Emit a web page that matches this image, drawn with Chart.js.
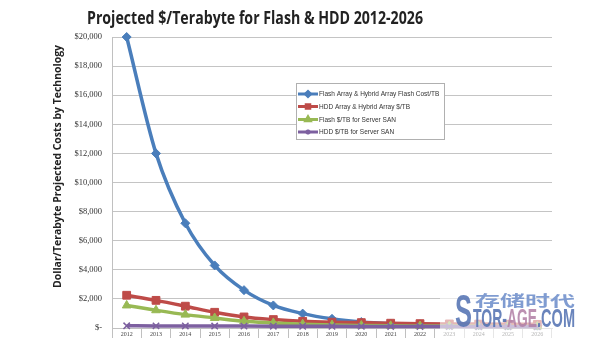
<!DOCTYPE html>
<html>
<head>
<meta charset="utf-8">
<script src="https://cdn.jsdelivr.net/npm/chart.js@4/dist/chart.umd.min.js"></script>
<style>
  html, body { margin: 0; padding: 0; background: #fff; }
  canvas { display: block; }
</style>
</head>
<body>
<canvas id="chart" width="600" height="345"></canvas>
<script>
// Projected cost per terabyte, 2012-2026
const years = ['2012','2013','2014','2015','2016','2017','2018','2019','2020','2021','2022','2023','2024','2025','2026'];

const flashArrayCost   = [20000, 12000, 7200, 4300, 2600, 1550, 990, 630, 410, 300, 250, 210, 190, 170, 160];
const hddArrayCost     = [2250, 1900, 1500, 1080, 760, 580, 460, 400, 370, 330, 300, 280, 270, 260, 250];
const flashServerCost  = [1550, 1220, 920, 690, 460, 350, 260, 200, 170, 150, 140, 130, 120, 110, 100];
const hddServerCost    = [150, 145, 140, 135, 130, 125, 120, 115, 110, 105, 100, 95, 90, 85, 80];

const seriesNames = [
  'Flash Array & Hybrid Array Flash Cost/TB',
  'HDD Array & Hybrid Array $/TB',
  'Flash $/TB for Server SAN',
  'HDD $/TB for Server SAN'
];

const chartTitle = 'Projected $/Terabyte for Flash & HDD 2012-2026';
const yAxisTitle = 'Dollar/Terabyte Projected Costs by Technology';

const COLORS = ['#4a7ebb', '#be4b48', '#98b954', '#7d60a0'];
const MARKERS = ['rectRot', 'rect', 'triangle', 'crossRot'];
const MARKER_R = [4.5, 5.5, 5, 4.5];

function makeSeries(i, values) {
  return {
    label: seriesNames[i],
    data: values,
    borderColor: COLORS[i],
    backgroundColor: COLORS[i],
    borderWidth: 3.5,
    pointStyle: MARKERS[i],
    pointRadius: MARKER_R[i],
    pointBorderWidth: i === 3 ? 1.5 : 1,
    pointBackgroundColor: COLORS[i],
    pointBorderColor: COLORS[i],
    cubicInterpolationMode: 'monotone',
    order: 4 - i,
    clip: false
  };
}

// Draws a string compressed/stretched to an exact width
function fitText(ctx, text, x, y, width, font, color) {
  ctx.save();
  ctx.font = font;
  ctx.fillStyle = color;
  ctx.textBaseline = 'alphabetic';
  ctx.textAlign = 'left';
  const w = ctx.measureText(text).width;
  const s = width / w;
  ctx.translate(x, y);
  ctx.scale(s, 1);
  ctx.fillText(text, 0, 0);
  ctx.restore();
}

const decorations = {
  id: 'decorations',
  beforeDraw(chart) {
    const ctx = chart.ctx;
    ctx.save();
    ctx.fillStyle = '#ffffff';
    ctx.fillRect(0, 0, chart.width, chart.height);
    ctx.restore();
  },
  afterDatasetsDraw(chart) {
    const ctx = chart.ctx;
    // legend box inside the plot
    const bx = 296, by = 83, bw = 148, bh = 56;
    ctx.save();
    ctx.fillStyle = '#ffffff';
    ctx.fillRect(bx, by, bw, bh);
    ctx.strokeStyle = '#b0b0b0';
    ctx.lineWidth = 1;
    ctx.strokeRect(bx + 0.5, by + 0.5, bw, bh);
    const rows = [94, 106.5, 119.5, 132];
    chart.data.datasets.forEach((ds, i) => {
      const y = rows[i];
      ctx.strokeStyle = ds.borderColor;
      ctx.lineWidth = 3;
      ctx.beginPath();
      ctx.moveTo(298, y);
      ctx.lineTo(318, y);
      ctx.stroke();
      Chart.helpers.drawPoint(ctx, {
        pointStyle: ds.pointStyle, radius: 2.5, borderWidth: 1, rotation: 0
      }, 308, y);
      ctx.fillStyle = ds.borderColor;
      ctx.fill();
      ctx.fillStyle = '#333';
      ctx.font = '6.5px "Liberation Sans", Arial, sans-serif';
      ctx.textBaseline = 'middle';
      ctx.textAlign = 'left';
      ctx.fillText(ds.label, 319, y + 0.5);
    });
    ctx.restore();
  },
  afterDraw(chart) {
    const ctx = chart.ctx;
    // title
    fitText(ctx, chartTitle, 87, 24, 336, 'bold 17px "Open Sans", sans-serif', '#222');
    // vertical axis title
    ctx.save();
    ctx.translate(61, 288);
    ctx.rotate(-Math.PI / 2);
    fitText(ctx, yAxisTitle, 0, 0, 243, 'bold 11px "Open Sans", sans-serif', '#222');
    ctx.restore();

    // site mark in the lower right corner
    ctx.save();
    ctx.fillStyle = 'rgba(255,255,255,0.6)';
    ctx.fillRect(440, 283, 160, 62);
    ctx.globalAlpha = 0.85;
    fitText(ctx, 'S', 455, 327, 17, 'bold 46px "Liberation Sans", sans-serif', '#4f6fb0');
    fitText(ctx, '存储时代', 475, 306, 100, 'bold 15px "Noto Sans CJK SC", sans-serif', '#6a8bc9');
    fitText(ctx, 'TOR-', 473, 327, 34, 'bold 25px "Liberation Sans", sans-serif', '#4f6fb0');
    fitText(ctx, 'AGE', 507, 327, 30, 'bold 25px "Liberation Sans", sans-serif', '#b07ea4');
    fitText(ctx, '.COM', 537, 327, 38, 'bold 25px "Liberation Sans", sans-serif', '#4f6fb0');
    ctx.restore();
  }
};

new Chart(document.getElementById('chart').getContext('2d'), {
  type: 'line',
  data: {
    labels: years,
    datasets: [
      makeSeries(0, flashArrayCost),
      makeSeries(1, hddArrayCost),
      makeSeries(2, flashServerCost),
      makeSeries(3, hddServerCost)
    ]
  },
  options: {
    responsive: false,
    animation: false,
    devicePixelRatio: 1,
    layout: { padding: { top: 37, right: 48, left: 0, bottom: 0 } },
    plugins: {
      legend: { display: false },
      title: { display: false },
      tooltip: { enabled: false }
    },
    scales: {
      x: {
        offset: true,
        grid: { offset: true, drawOnChartArea: false, drawTicks: true, tickLength: 10, color: '#c0c0c0' },
        border: { color: '#c0c0c0' },
        ticks: {
          font: { size: 6, family: '"Liberation Serif", serif' },
          color: '#444',
          padding: -7,
          maxRotation: 0,
          autoSkip: false
        },
        afterFit(scale) { scale.height = 17; }
      },
      y: {
        min: 0,
        max: 20000,
        ticks: {
          stepSize: 2000,
          font: { size: 8.5, family: '"Liberation Serif", serif' },
          color: '#333',
          padding: 10,
          callback: v => v === 0 ? '$-' : '$' + v.toLocaleString('en-US')
        },
        grid: { color: '#c4c4c4', drawTicks: false },
        border: { color: '#c0c0c0' },
        afterFit(scale) { scale.width = 112; }
      }
    }
  },
  plugins: [decorations]
});
</script>
</body>
</html>
